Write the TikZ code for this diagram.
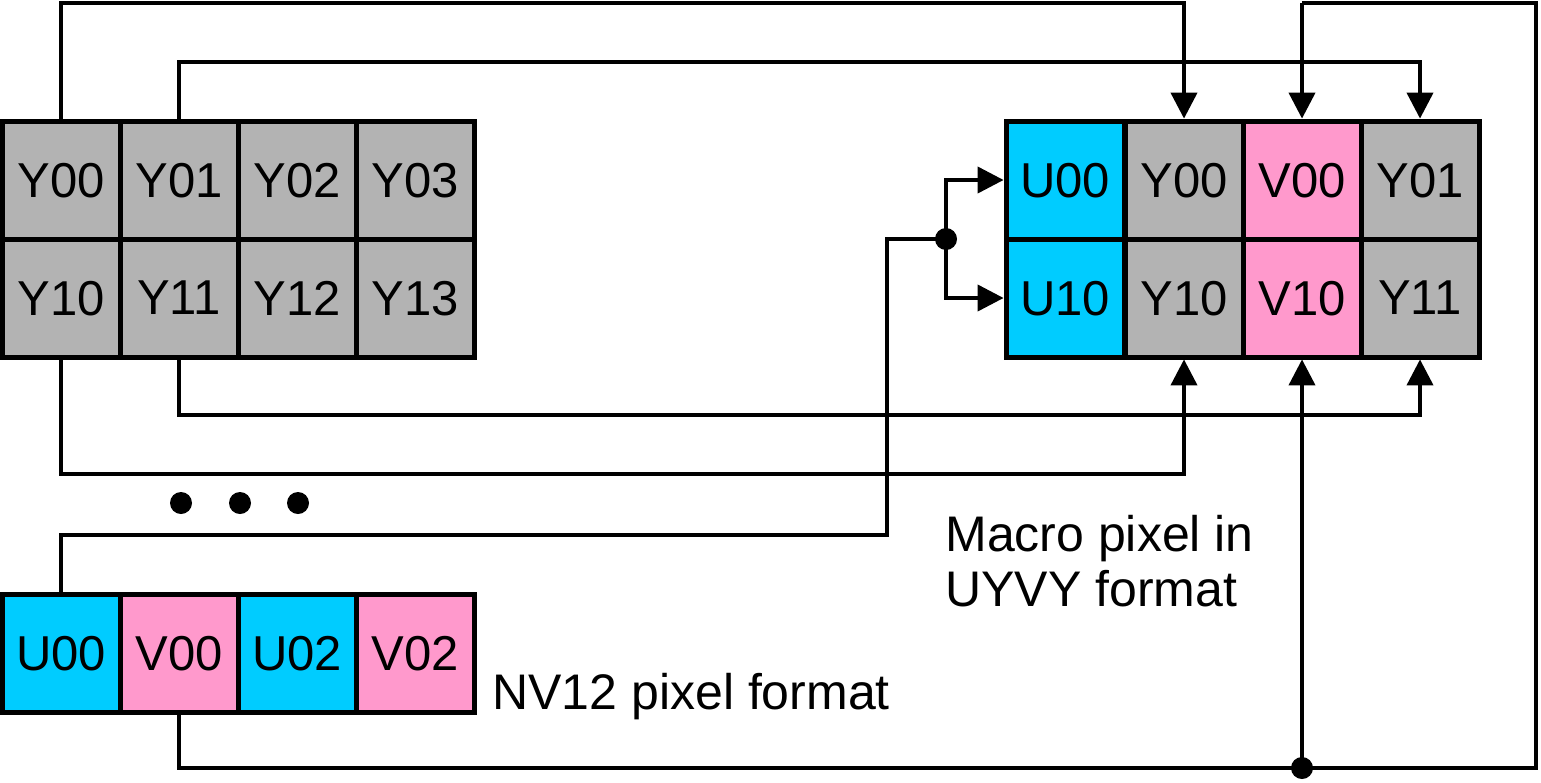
\documentclass[tikz,border=0pt]{standalone}
\usepackage{fontspec}
\setmainfont{Liberation Sans}
\usetikzlibrary{arrows.meta}
\definecolor{cellgray}{HTML}{B3B3B3}
\definecolor{cellcyan}{HTML}{00CCFF}
\definecolor{cellpink}{HTML}{FF99CC}
\tikzset{
  cell/.style={draw=black, line width=2.5pt, minimum width=59pt, minimum height=59pt,
    inner sep=0pt, outer sep=0pt, font=\fontsize{24.5}{27}\selectfont, text depth=0pt, anchor=center},
  gcell/.style={cell, fill=cellgray},
  ccell/.style={cell, fill=cellcyan},
  pcell/.style={cell, fill=cellpink},
  conn/.style={line width=2pt, line join=miter},
  arr/.style={conn, -{Triangle[length=13pt,width=13pt]}, shorten >=1.2pt},
  lbl/.style={font=\fontsize{25}{27.5}\selectfont, inner sep=0pt, anchor=base west},
  junction/.style={circle, fill=black, minimum size=11pt, inner sep=0pt}
}
\begin{document}
\begin{tikzpicture}[x=0.5pt,y=-0.5pt]
\useasboundingbox (0,0) rectangle (1541,782);
% left Y plane
\node[gcell] (l00) at (61,180) {Y00};
\node[gcell] (l01) at (179,180) {Y01};
\node[gcell] (l02) at (297,180) {Y02};
\node[gcell] (l03) at (415,180) {Y03};
\node[gcell] (l10) at (61,298) {Y10};
\node[gcell] (l11) at (179,298) {Y11};
\node[gcell] (l12) at (297,298) {Y12};
\node[gcell] (l13) at (415,298) {Y13};
% NV12 UV plane
\node[ccell] (nu00) at (61,653) {U00};
\node[pcell] (nv00) at (179,653) {V00};
\node[ccell] (nu02) at (297,653) {U02};
\node[pcell] (nv02) at (415,653) {V02};
% right macro pixel
\node[ccell] (ru00) at (1065,180) {U00};
\node[gcell] (ry00) at (1184,180) {Y00};
\node[pcell] (rv00) at (1302,180) {V00};
\node[gcell] (ry01) at (1420,180) {Y01};
\node[ccell] (ru10) at (1065,298) {U10};
\node[gcell] (ry10) at (1184,298) {Y10};
\node[pcell] (rv10) at (1302,298) {V10};
\node[gcell] (ry11) at (1420,298) {Y11};
% ellipsis dots
\node[junction] (d1) at (181,503) {};
\node[junction] (d2) at (240,503) {};
\node[junction] (d3) at (298,503) {};
% junctions
\node[junction] (ju) at (946,239) {};
\node[junction] (jv) at (1302,768) {};
% labels
\node[lbl] (nvlbl) at (492,709) {NV12 pixel format};
\node[lbl] (mlbl1) at (945,551) {Macro pixel in};
\node[lbl] (mlbl2) at (945,606) {UYVY format};
% Y connectors
\draw[arr] (l00.north) -- (61,3) -| (ry00.north);
\draw[arr] (l01.north) -- (179,62) -| (ry01.north);
\draw[arr] (l10.south) -- (61,474) -| (ry10.south);
\draw[arr] (l11.south) -- (179,415) -| (ry11.south);
% U connector
\draw[conn] (nu00.north) -- (61,535) -- (887,535) |- (ju.center);
\draw[arr] (ju.center) |- (ru00.west);
\draw[arr] (ju.center) |- (ru10.west);
% V connector
\draw[conn] (nv00.south) |- (1536,768) -- (1536,3) -- (1302,3);
\draw[arr] (1302,3) -- (rv00.north);
\draw[arr] (jv.center) -- (rv10.south);
\end{tikzpicture}
\end{document}
